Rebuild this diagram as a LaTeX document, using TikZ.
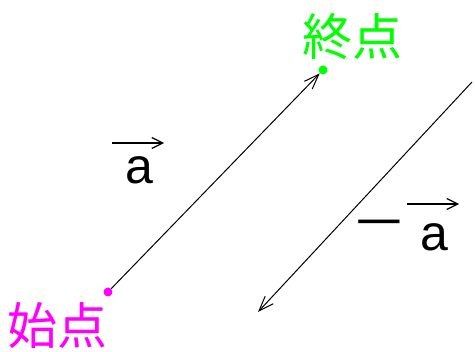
\documentclass[tikz,border=0pt]{standalone}
\usepackage{fontspec}
\usepackage{tikz}
\usetikzlibrary{arrows.meta,calc}
\setmainfont{Liberation Sans}
\newfontfamily\cjk{Noto Sans CJK JP}
\definecolor{cStart}{HTML}{FF00FF}
\definecolor{cEnd}{HTML}{00FF00}
\definecolor{cInk}{HTML}{000000}
\tikzset{
  pt/.style     = {circle, inner sep=0pt, minimum size=9pt},
  ptstart/.style = {pt, fill=cStart},
  ptend/.style  = {pt, fill=cEnd},
  place/.style  = {inner sep=0pt, font=\fontsize{50}{50}\cjk},
  vname/.style  = {inner sep=0pt, font=\fontsize{50}{50}\selectfont},
  vec/.style    = {-{Straight Barb[length=15pt,width=11pt]}, line width=1pt, draw=cInk},
  vecbar/.style = {-{Straight Barb[length=11pt,width=11pt]}, line width=1.2pt, draw=cInk},
}
\begin{document}
\begin{tikzpicture}[x=1pt,y=-1pt]
  \useasboundingbox (0,0) rectangle (475,352);
  % ---- vector a ----
  \node[ptstart] (s) at (108,292) {};
  \node[ptend] (e) at (323,70) {};
  \draw[vec] (s) -- (e);
  \node[place, text=cStart] (ls) at (58,326) {始点};
  \node[place, text=cEnd] (le) at (352,37) {終点};
  \node[vname] (va) at (139,170) {a};
  \draw[vecbar] ($(va.west)+(-13,-27)$) -- ($(va.east)+(11,-27)$);
  % ---- vector -a ----
  \coordinate (p) at (472,82);
  \coordinate (q) at (258,312);
  \draw[vec] (p) -- (q);
  \node[vname] (mn) at (379,229) {\scalebox{1.7}[1]{−}};
  \node[vname] (vb) at (434,237) {a};
  \draw[vecbar] ($(vb.west)+(-13,-33)$) -- ($(vb.east)+(11,-33)$);
\end{tikzpicture}
\end{document}
